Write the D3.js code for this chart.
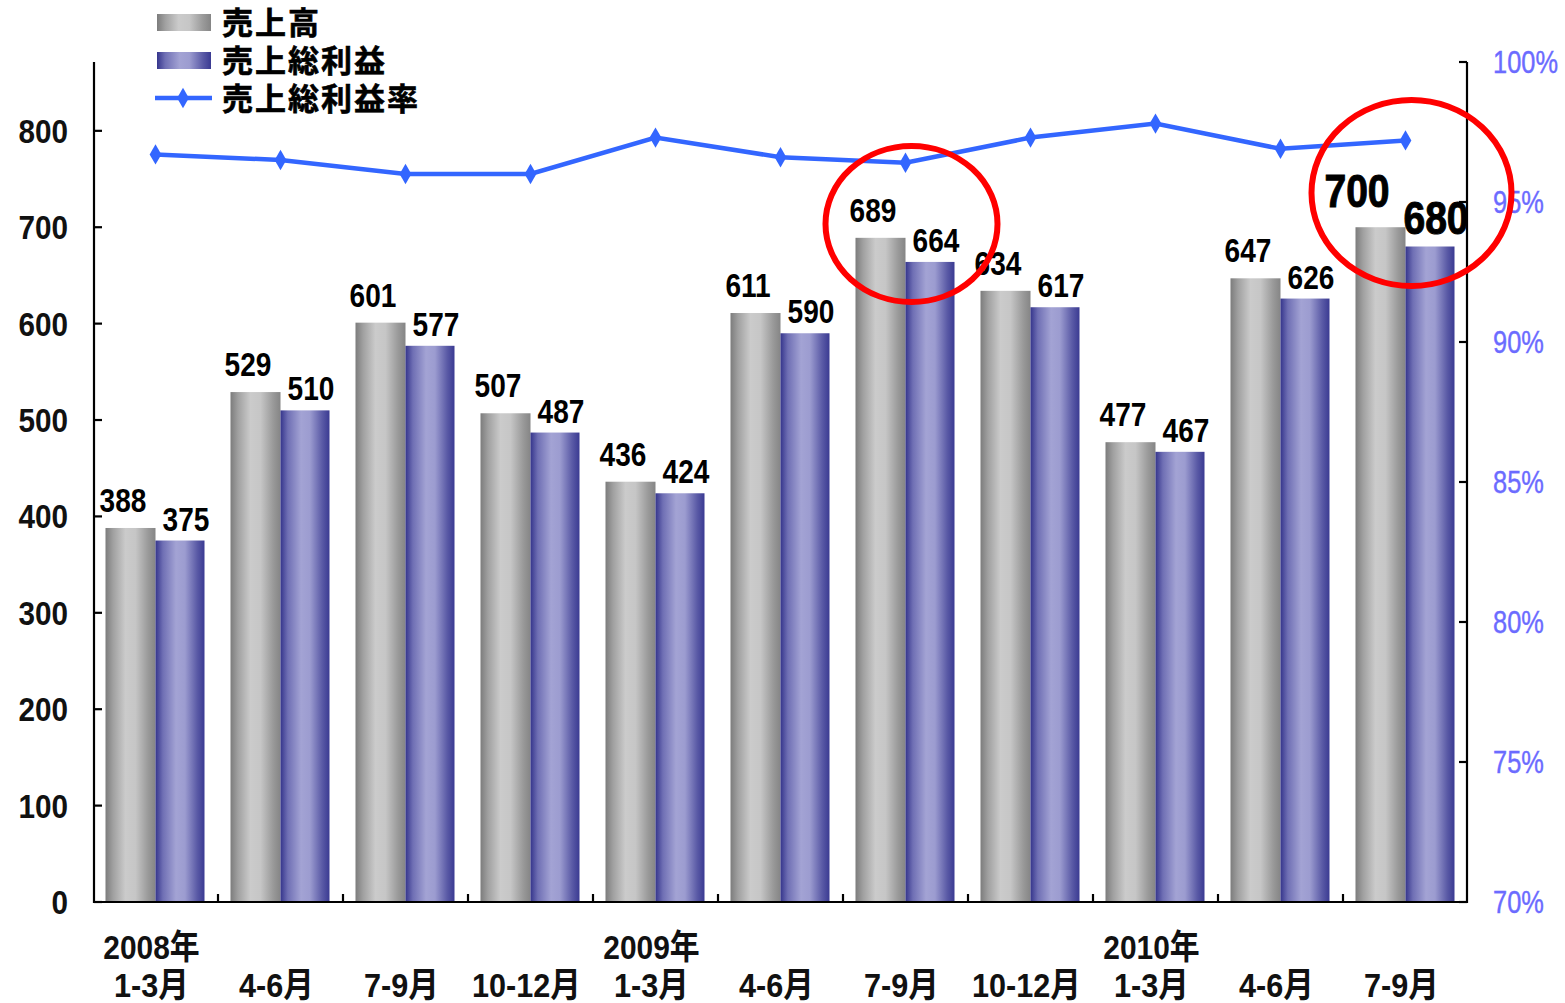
<!DOCTYPE html>
<html lang="ja">
<head>
<meta charset="utf-8">
<script src="https://cdn.jsdelivr.net/npm/d3@7"></script>
<style>
  html, body { margin: 0; padding: 0; background: #fff; }
  svg { display: block; }
  .num { font-family: "Liberation Sans", Arial, "Noto Sans CJK JP", sans-serif; font-weight: bold; }
  .cjk { font-family: "Noto Sans CJK JP", sans-serif; font-weight: bold; }
</style>
</head>
<body>
<svg id="chart" width="1565" height="1003"></svg>
<script>
// Quarterly sales, gross profit and gross margin
const quarters = ["1-3月", "4-6月", "7-9月", "10-12月", "1-3月", "4-6月", "7-9月", "10-12月", "1-3月", "4-6月", "7-9月"];
const years = ["2008年", "", "", "", "2009年", "", "", "", "2010年", "", ""];
const sales = [388, 529, 601, 507, 436, 611, 689, 634, 477, 647, 700];
const grossProfit = [375, 510, 577, 487, 424, 590, 664, 617, 467, 626, 680];
const grossMargin = [96.7, 96.5, 96.0, 96.0, 97.3, 96.6, 96.4, 97.3, 97.8, 96.9, 97.2];
const leftTicks = [0, 100, 200, 300, 400, 500, 600, 700, 800];
const rightTicks = [70, 75, 80, 85, 90, 95, 100];
const seriesNames = ["売上高", "売上総利益", "売上総利益率"];
// quarters singled out with a circle
const highlighted = [6, 10];

const svg = d3.select("#chart");
const defs = svg.append("defs");

function cylinder(id, stops) {
  const g = defs.append("linearGradient").attr("id", id)
    .attr("x1", "0%").attr("x2", "100%").attr("y1", "0%").attr("y2", "0%");
  stops.forEach(([o, c]) => g.append("stop").attr("offset", o).attr("stop-color", c));
}
cylinder("gradGray", [["0%", "#7c7c7c"], ["15%", "#a0a0a0"], ["40%", "#cbcbcb"], ["60%", "#c6c6c6"], ["85%", "#9a9a9a"], ["100%", "#858585"]]);
cylinder("gradBlue", [["0%", "#35358c"], ["15%", "#6f6fb4"], ["42%", "#a3a3d4"], ["60%", "#9c9cd0"], ["85%", "#5a5aa6"], ["100%", "#3a3a92"]]);

// horizontally condensed text helper
function narrowText(sel, x, y, sx) {
  return sel.append("text").attr("transform", `translate(${x},${y}) scale(${sx},1)`);
}

const plot = { left: 94, right: 1467, top: 62, bottom: 902 };

const x = d3.scaleBand().domain(d3.range(quarters.length)).range([93, 1468]).paddingInner(0).paddingOuter(0);
const y = d3.scaleLinear().domain([0, 871.4]).range([plot.bottom, plot.top]);
const yr = d3.scaleLinear().domain([70, 100]).range([plot.bottom, plot.top]);
const barW = 49;
const mid = i => x(i) + x.bandwidth() / 2;

// bars
const groups = svg.append("g");
quarters.forEach((q, i) => {
  const c = mid(i);
  groups.append("rect").attr("x", c - barW - 1).attr("width", barW + 1)
    .attr("y", y(sales[i])).attr("height", y(0) - y(sales[i]))
    .attr("fill", "url(#gradGray)");
  groups.append("rect").attr("x", c).attr("width", barW)
    .attr("y", y(grossProfit[i])).attr("height", y(0) - y(grossProfit[i]))
    .attr("fill", "url(#gradBlue)");
});

// axes
const axisG = svg.append("g").attr("stroke", "#000").attr("stroke-width", 2.2).attr("fill", "none");
axisG.append("line").attr("x1", plot.left).attr("x2", plot.left).attr("y1", plot.top).attr("y2", plot.bottom + 1);
axisG.append("line").attr("x1", plot.right).attr("x2", plot.right).attr("y1", plot.top).attr("y2", plot.bottom + 1);
axisG.append("line").attr("x1", plot.left - 1).attr("x2", plot.right + 1).attr("y1", plot.bottom).attr("y2", plot.bottom);
leftTicks.forEach(t => axisG.append("line").attr("x1", plot.left).attr("x2", plot.left + 8).attr("y1", y(t)).attr("y2", y(t)));
rightTicks.forEach(t => axisG.append("line").attr("x1", plot.right - 8).attr("x2", plot.right).attr("y1", yr(t)).attr("y2", yr(t)));
d3.range(1, quarters.length).forEach(i => axisG.append("line").attr("x1", x(i)).attr("x2", x(i)).attr("y1", plot.bottom).attr("y2", plot.bottom - 8));

// left tick labels
const leftG = svg.append("g").attr("class", "num").attr("fill", "#111");
leftTicks.forEach(t => narrowText(leftG, 68, y(t) + 12, 0.9)
  .attr("text-anchor", "end").attr("font-size", 33).text(t));

// right tick labels
const rightG = svg.append("g").attr("font-family", "'Liberation Sans', Arial, sans-serif").attr("fill", "#6b6bff");
rightTicks.forEach(t => narrowText(rightG, 1493, yr(t) + 11, 0.82)
  .attr("font-size", 31).attr("stroke", "#6b6bff").attr("stroke-width", 0.4).text(t + "%"));

// category labels
const catG = svg.append("g").attr("class", "num").attr("fill", "#111");
quarters.forEach((q, i) => narrowText(catG, mid(i) - 4, 997, 0.9)
  .attr("text-anchor", "middle").attr("font-size", 34).text(q));
years.forEach((yv, i) => { if (yv) narrowText(catG, mid(i) - 4, 959, 0.88)
  .attr("text-anchor", "middle").attr("font-size", 34).text(yv); });

// gross margin line
const line = d3.line().x((d, i) => mid(i)).y(d => yr(d));
svg.append("path").datum(grossMargin).attr("d", line)
  .attr("fill", "none").attr("stroke", "#3366ff").attr("stroke-width", 4.5);
const diamond = d3.symbol().type(d3.symbolDiamond).size(120);
svg.append("g").selectAll("path").data(grossMargin).join("path")
  .attr("d", diamond)
  .attr("transform", (d, i) => `translate(${mid(i)},${yr(d)})`)
  .attr("fill", "#3366ff");

// value labels (the latest quarter is printed larger)
const labels = svg.append("g").attr("class", "num").attr("fill", "#000");
const last = quarters.length - 1;
sales.forEach((v, i) => {
  const big = i === last;
  narrowText(labels, mid(i) - barW / 2 - (big ? 24 : 8), y(v) - (big ? 20 : 16), 0.85)
    .attr("text-anchor", "middle").attr("font-size", big ? 46 : 33)
    .attr("stroke", big ? "#000" : "none").attr("stroke-width", big ? 1 : 0)
    .text(v);
});
grossProfit.forEach((v, i) => {
  const big = i === last;
  narrowText(labels, mid(i) + barW / 2 + 6, y(v) - (big ? 13 : 10), 0.85)
    .attr("text-anchor", "middle").attr("font-size", big ? 46 : 33)
    .attr("stroke", big ? "#000" : "none").attr("stroke-width", big ? 1 : 0)
    .text(v);
});

// legend
const legend = svg.append("g");
legend.append("rect").attr("x", 157).attr("y", 14).attr("width", 54).attr("height", 17).attr("fill", "url(#gradGray)");
legend.append("rect").attr("x", 157).attr("y", 52).attr("width", 54).attr("height", 17).attr("fill", "url(#gradBlue)");
legend.append("line").attr("x1", 155).attr("x2", 212).attr("y1", 98).attr("y2", 98).attr("stroke", "#3366ff").attr("stroke-width", 4.5);
legend.append("path").attr("d", diamond).attr("transform", "translate(183,98)").attr("fill", "#3366ff");
legend.selectAll("text").data(seriesNames).join("text")
  .attr("class", "cjk").attr("x", 222).attr("y", (d, i) => 23 + i * 38).attr("dy", "0.36em")
  .attr("font-size", 31).attr("letter-spacing", 2).attr("fill", "#000")
  .attr("stroke", "#000").attr("stroke-width", 0.6).text(d => d);

// circles around the highlighted quarters
const rings = [
  { i: highlighted[0], dx: 6, cy: 224, rx: 86, ry: 78 },
  { i: highlighted[1], dx: 6, cy: 193, rx: 100, ry: 93 }
];
svg.append("g").selectAll("ellipse").data(rings).join("ellipse")
  .attr("cx", d => mid(d.i) + d.dx).attr("cy", d => d.cy)
  .attr("rx", d => d.rx).attr("ry", d => d.ry)
  .attr("fill", "none").attr("stroke", "#ff0000").attr("stroke-width", 6);
</script>
</body>
</html>
